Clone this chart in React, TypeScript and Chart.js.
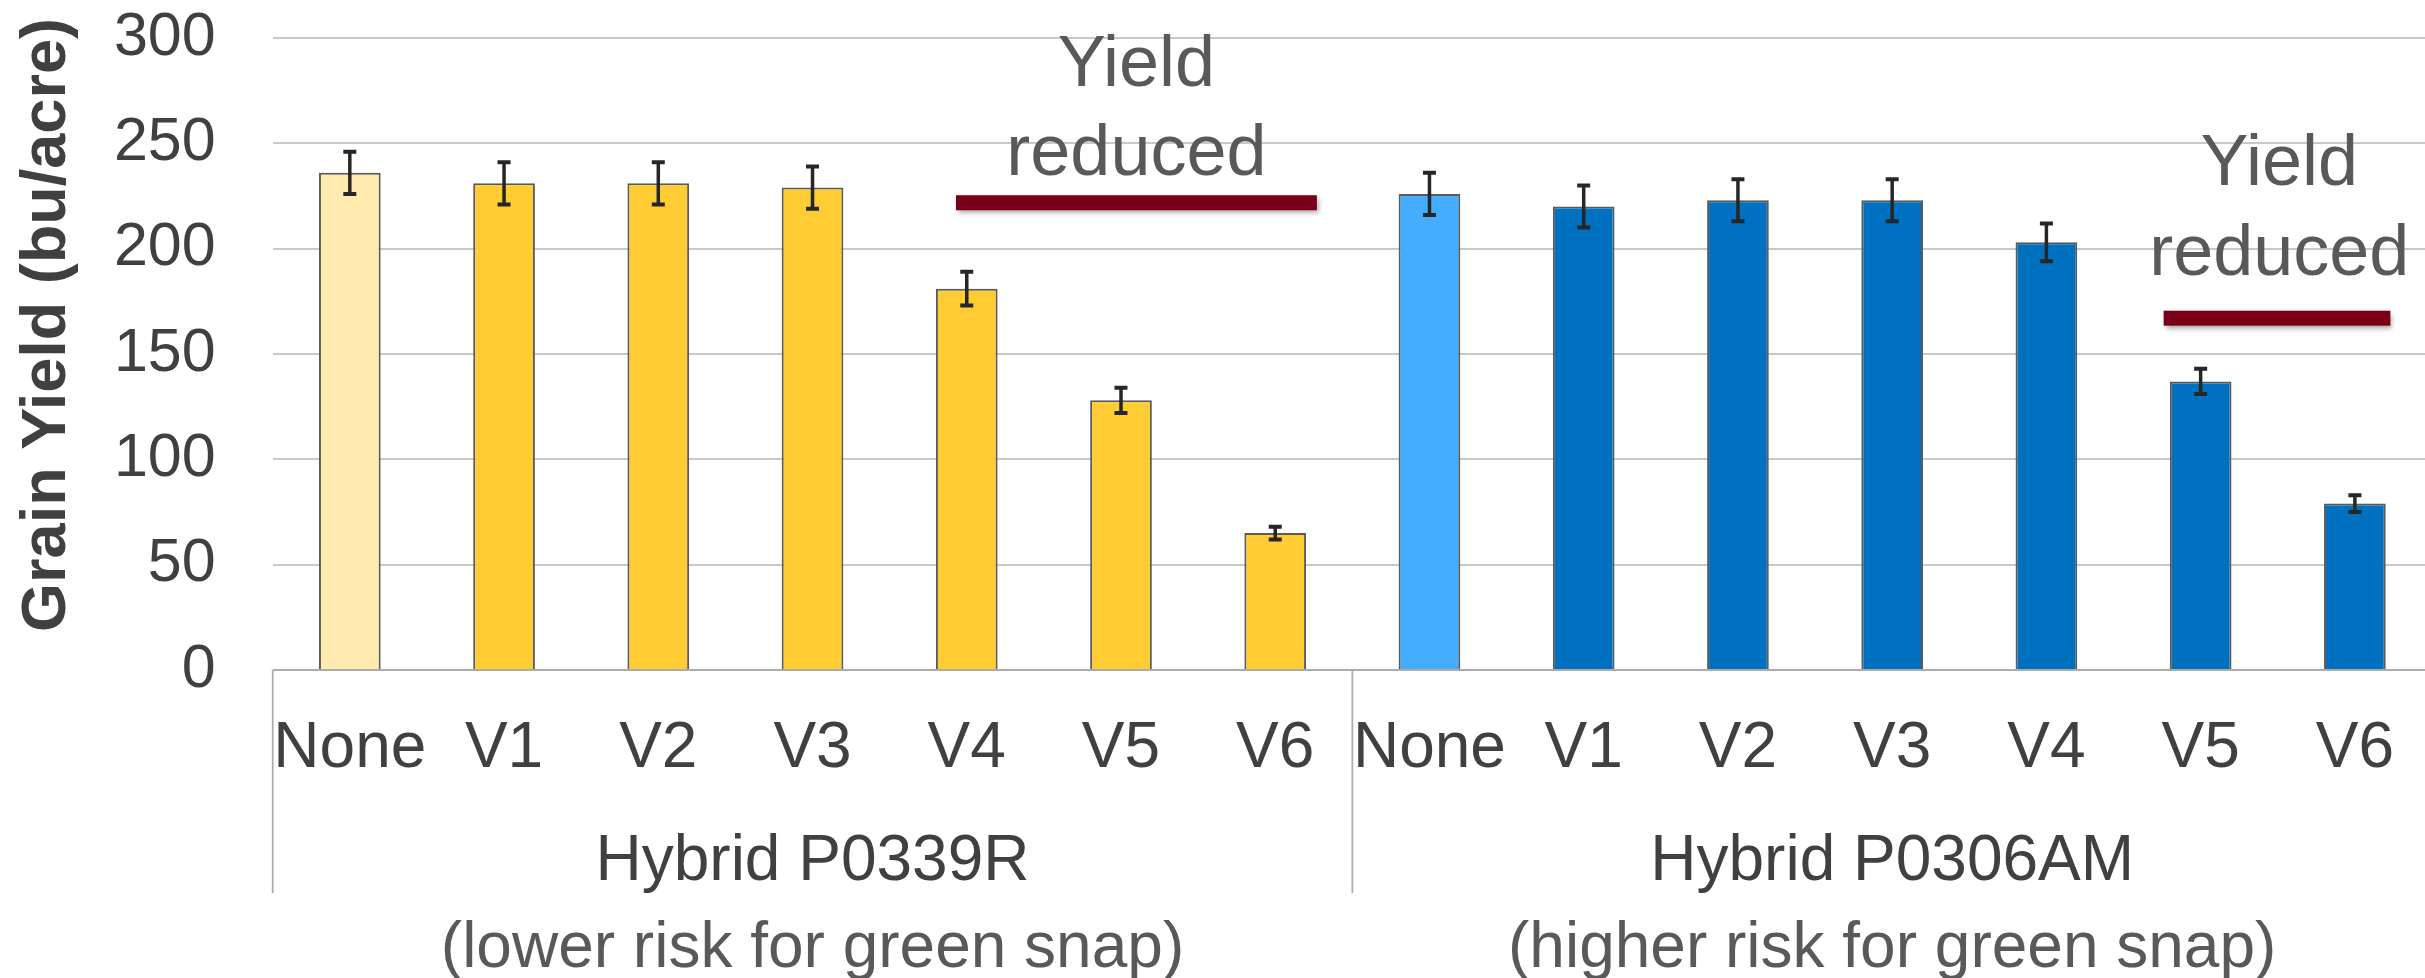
import React, { useEffect, useRef } from 'react';
import { Chart, registerables } from 'chart.js';

Chart.register(...registerables);

// ---- data ----
const categories = ['None', 'V1', 'V2', 'V3', 'V4', 'V5', 'V6', 'None', 'V1', 'V2', 'V3', 'V4', 'V5', 'V6'];
const yieldValues = [236, 231, 231, 229, 181, 128, 65, 226, 220, 223, 223, 203, 137, 79];
const errorValues = [10, 10, 10, 10, 8, 6, 3, 10, 10, 10, 10, 9, 6, 4];
const groupLabels = ['Hybrid P0339R', 'Hybrid P0306AM'];
const groupNotes = ['(lower risk for green snap)', '(higher risk for green snap)'];
const groupSize = 7;
const yTicks = [0, 50, 100, 150, 200, 250, 300];
const yTitle = 'Grain Yield (bu/acre)';
const annotationLines = ['Yield', 'reduced'];
// annotation anchors in data units (category index / yield value)
const annotCenterX = [5.1, 12.51];
const annotLine1Y = [277, 230.2];
const annotLine2Y = [235, 187.5];
const annotBarFrom = [3.93, 11.76];
const annotBarTo = [6.27, 13.23];
const annotBarY = [221.8, 167];

// ---- styles ----
const barColors = [
  '#FFEBB0', '#FFCC33', '#FFCC33', '#FFCC33', '#FFCC33', '#FFCC33', '#FFCC33',
  '#45ADFF', '#0070C0', '#0070C0', '#0070C0', '#0070C0', '#0070C0', '#0070C0',
];
const FONT = '"Liberation Sans", Arial, Helvetica, sans-serif';
const W = 2433;
const H = 978;

const customPlugin = {
  id: 'customDraw',
  afterDatasetsDraw(chart: any) {
    const ctx = chart.ctx;
    const xs = chart.scales.x;
    const ys = chart.scales.y;
    ctx.save();
    ctx.strokeStyle = '#262626';
    ctx.lineCap = 'butt';
    yieldValues.forEach((v, i) => {
      const cx = xs.getPixelForValue(i);
      const top = ys.getPixelForValue(v + errorValues[i]);
      const bot = ys.getPixelForValue(v - errorValues[i]);
      ctx.lineWidth = 3.5;
      ctx.beginPath();
      ctx.moveTo(cx, top);
      ctx.lineTo(cx, bot);
      ctx.stroke();
      ctx.lineWidth = 4;
      ctx.beginPath();
      ctx.moveTo(cx - 6.5, top);
      ctx.lineTo(cx + 6.5, top);
      ctx.moveTo(cx - 6.5, bot);
      ctx.lineTo(cx + 6.5, bot);
      ctx.stroke();
    });
    ctx.restore();
  },
  afterDraw(chart: any) {
    const ctx = chart.ctx;
    const xs = chart.scales.x;
    const ys = chart.scales.y;
    const area = chart.chartArea;
    const axisY = ys.getPixelForValue(0);
    ctx.save();

    // x axis line
    ctx.strokeStyle = '#ACACAC';
    ctx.lineWidth = 2;
    ctx.beginPath();
    ctx.moveTo(area.left, axisY);
    ctx.lineTo(area.right, axisY);
    ctx.stroke();

    // group separators
    ctx.lineWidth = 1.8;
    for (let g = 0; g <= groupLabels.length; g++) {
      const sx = xs.getPixelForValue(g * groupSize - 0.5);
      ctx.beginPath();
      ctx.moveTo(sx, axisY);
      ctx.lineTo(sx, axisY + 223);
      ctx.stroke();
    }

    // category labels
    ctx.textAlign = 'center';
    ctx.textBaseline = 'alphabetic';
    ctx.fillStyle = '#404040';
    ctx.font = `64px ${FONT}`;
    categories.forEach((c, i) => {
      ctx.fillText(c, xs.getPixelForValue(i), axisY + 97);
    });

    // group labels
    groupLabels.forEach((g, gi) => {
      const cx = xs.getPixelForValue(gi * groupSize + (groupSize - 1) / 2);
      ctx.fillStyle = '#404040';
      ctx.fillText(g, cx, axisY + 210);
      ctx.fillStyle = '#595959';
      ctx.fillText(groupNotes[gi], cx, axisY + 297);
    });

    // y title
    ctx.save();
    ctx.translate(65, 325);
    ctx.rotate(-Math.PI / 2);
    ctx.font = `bold 63px ${FONT}`;
    ctx.fillStyle = '#404040';
    ctx.fillText(yTitle, 0, 0);
    ctx.restore();

    // annotations
    for (let a = 0; a < annotCenterX.length; a++) {
      const cx = xs.getPixelForValue(annotCenterX[a]);
      ctx.font = `72px ${FONT}`;
      ctx.fillStyle = '#595959';
      ctx.textAlign = 'center';
      ctx.fillText(annotationLines[0], cx, ys.getPixelForValue(annotLine1Y[a]));
      ctx.fillText(annotationLines[1], cx, ys.getPixelForValue(annotLine2Y[a]));
      const x0 = xs.getPixelForValue(annotBarFrom[a]);
      const x1 = xs.getPixelForValue(annotBarTo[a]);
      const yc = ys.getPixelForValue(annotBarY[a]);
      ctx.save();
      ctx.shadowColor = 'rgba(0,0,0,0.35)';
      ctx.shadowBlur = 5;
      ctx.shadowOffsetX = 2;
      ctx.shadowOffsetY = 3;
      ctx.fillStyle = '#7A0019';
      ctx.fillRect(x0, yc - 7.5, x1 - x0, 15);
      ctx.restore();
    }
    ctx.restore();
  },
};

export default function App() {
  const canvasRef = useRef<HTMLCanvasElement | null>(null);

  useEffect(() => {
    if (!canvasRef.current) return;
    const chart = new Chart(canvasRef.current, {
      type: 'bar',
      data: {
        labels: categories,
        datasets: [
          {
            data: yieldValues,
            backgroundColor: barColors,
            borderColor: '#5A5A5A',
            borderWidth: 2,
            barPercentage: 0.4,
            categoryPercentage: 1,
          },
        ],
      },
      options: {
        responsive: false,
        animation: false,
        devicePixelRatio: 1,
        layout: { padding: { left: 0, right: 1, top: 38, bottom: 308 } },
        plugins: {
          legend: { display: false },
          tooltip: { enabled: false },
          title: { display: false },
        },
        scales: {
          x: { display: false, offset: true },
          y: {
            min: 0,
            max: 300,
            afterBuildTicks: (s: any) => {
              s.ticks = yTicks.map((v) => ({ value: v }));
            },
            afterFit: (s: any) => {
              s.width = 272.7;
              s.paddingTop = 0;
              s.paddingBottom = 0;
            },
            ticks: {
              autoSkip: false,
              font: { family: FONT, size: 61 },
              color: '#404040',
              padding: 57,
            },
            grid: { color: '#C8C8C8', lineWidth: 2, drawTicks: false },
            border: { display: false },
          },
        },
      },
      plugins: [customPlugin],
    } as any);
    return () => chart.destroy();
  }, []);

  return (
    <div style={{ position: 'fixed', left: 0, top: 0, width: W, height: H, background: '#fff' }}>
      <canvas ref={canvasRef} width={W} height={H} style={{ display: 'block', width: W, height: H }} />
    </div>
  );
}
